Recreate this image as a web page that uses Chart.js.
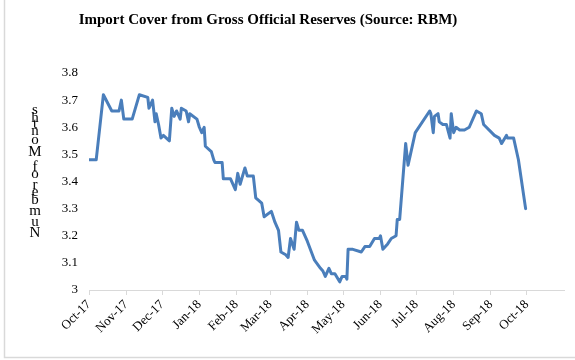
<!DOCTYPE html>
<html>
<head>
<meta charset="utf-8">
<script src="https://cdn.jsdelivr.net/npm/chart.js@4/dist/chart.umd.min.js"></script>
<style>
  html, body { margin: 0; padding: 0; background: #fff; }
  #wrap { position: relative; width: 575px; height: 360px; }
</style>
</head>
<body>
<div id="wrap"><canvas id="c" width="575" height="360"></canvas></div>
<script>
// Import cover (months) from gross official reserves, Oct 2017 – Oct 2018.
// Observation dates are stored as days counted from 1 October 2017.
const days = [
  0, 6, 12, 19, 25, 27, 29, 36, 42, 49,
  50, 53, 55, 56, 58, 60, 62, 67, 69, 71,
  73, 76, 77, 81, 83, 84, 90, 92, 94, 96,
  97, 102, 104, 105, 111, 112, 118, 122, 124, 126,
  130, 132, 137, 139, 144, 146, 152, 155, 158, 160,
  164, 166, 168, 171, 173, 175, 178, 182, 188, 193,
  195, 197, 200, 202, 205, 209, 211, 214, 215, 216,
  220, 227, 230, 234, 238, 242, 243, 245, 249, 252,
  256, 257, 259, 264, 266, 268, 272, 284, 285, 287,
  288, 291, 292, 295, 298, 301, 302, 304, 306, 309,
  313, 317, 323, 327, 329, 338, 342, 344, 348, 349,
  354, 358, 364
];
const importCover = [
  3.48, 3.48, 3.72, 3.66, 3.66, 3.70, 3.63, 3.63, 3.72, 3.71,
  3.67, 3.70, 3.62, 3.65, 3.61, 3.56, 3.57, 3.55, 3.67, 3.64,
  3.66, 3.63, 3.67, 3.66, 3.62, 3.65, 3.63, 3.60, 3.58, 3.60,
  3.53, 3.51, 3.48, 3.47, 3.47, 3.41, 3.41, 3.37, 3.43, 3.39,
  3.45, 3.42, 3.42, 3.34, 3.32, 3.27, 3.29, 3.25, 3.22, 3.14,
  3.13, 3.12, 3.19, 3.15, 3.25, 3.22, 3.22, 3.18, 3.11, 3.08,
  3.07, 3.05, 3.08, 3.06, 3.06, 3.03, 3.05, 3.05, 3.04, 3.15,
  3.15, 3.14, 3.16, 3.16, 3.19, 3.19, 3.20, 3.15, 3.17, 3.19,
  3.20, 3.26, 3.26, 3.54, 3.46, 3.50, 3.58, 3.66, 3.65, 3.58,
  3.64, 3.65, 3.62, 3.61, 3.61, 3.56, 3.65, 3.58, 3.60, 3.59,
  3.59, 3.60, 3.66, 3.65, 3.61, 3.57, 3.56, 3.54, 3.57, 3.56,
  3.56, 3.48, 3.30
];
// First day of each month (days from 1 Oct 2017); the last entry closes the axis.
const monthStarts = [0, 31, 61, 92, 123, 151, 182, 212, 243, 273, 304, 335, 365, 396];
const monthLabels = ['Oct-17', 'Nov-17', 'Dec-17', 'Jan-18', 'Feb-18', 'Mar-18', 'Apr-18',
                     'May-18', 'Jun-18', 'Jul-18', 'Aug-18', 'Sep-18', 'Oct-18'];
const yTicks = [3, 3.1, 3.2, 3.3, 3.4, 3.5, 3.6, 3.7, 3.8];

const chartTitle = 'Import Cover from Gross Official Reserves (Source: RBM)';
const yTitle = 'Number of Months';

const SERIF = '"Liberation Serif", "DejaVu Serif", serif';

// White background plus the light frame on the left and bottom edges.
const framePlugin = {
  id: 'frame',
  beforeDraw(chart) {
    const ctx = chart.ctx;
    ctx.save();
    ctx.fillStyle = '#ffffff';
    ctx.fillRect(0, 0, chart.width, chart.height);
    ctx.strokeStyle = '#d9d9d9';
    ctx.lineWidth = 1.5;
    ctx.beginPath();
    ctx.moveTo(4.5, 0);
    ctx.lineTo(4.5, 357.5);
    ctx.lineTo(chart.width, 357.5);
    ctx.stroke();
    ctx.restore();
  }
};

// Chart heading, and the stacked vertical axis title (upright glyphs read bottom to top).
const textPlugin = {
  id: 'texts',
  afterDraw(chart) {
    const ctx = chart.ctx;
    ctx.save();
    ctx.fillStyle = '#000';
    ctx.font = 'bold 15px ' + SERIF;
    ctx.textAlign = 'center';
    ctx.textBaseline = 'middle';
    ctx.fillText(chartTitle, 268, 20);

    ctx.font = '15px ' + SERIF;
    const chars = Array.from(yTitle);
    const widths = chars.map(ch => ctx.measureText(ch).width);
    const total = widths.reduce((a, b) => a + b, 0) - (widths[0] + widths[widths.length - 1]) / 2;
    const k = 123 / total;
    let y = 233;
    chars.forEach((ch, i) => {
      if (i > 0) y -= (widths[i - 1] + widths[i]) / 2 * k;
      if (ch !== ' ') ctx.fillText(ch, 35, y);
    });
    ctx.restore();
  }
};

new Chart(document.getElementById('c'), {
  type: 'line',
  data: {
    datasets: [{
      data: days.map((d, i) => ({ x: d, y: importCover[i] })),
      borderColor: '#4a7ebb',
      borderWidth: 3,
      pointRadius: 0,
      tension: 0,
      fill: false,
      borderJoinStyle: 'round',
      borderCapStyle: 'round'
    }]
  },
  options: {
    responsive: false,
    animation: false,
    events: [],
    layout: { padding: { top: 73, right: 11, bottom: 0, left: 0 } },
    plugins: { legend: { display: false }, tooltip: { enabled: false }, title: { display: false } },
    scales: {
      x: {
        type: 'linear',
        min: monthStarts[0],
        max: monthStarts[monthStarts.length - 1],
        afterBuildTicks(scale) {
          scale.ticks = monthLabels.map((_, i) => ({ value: monthStarts[i] }));
        },
        afterFit(scale) { scale.height = 70; },
        grid: { display: true, drawOnChartArea: false, drawTicks: true, tickLength: 5, color: '#d9d9d9' },
        border: { display: true, color: '#d9d9d9', width: 1 },
        ticks: {
          autoSkip: false,
          minRotation: 45,
          maxRotation: 45,
          padding: 2,
          color: '#000',
          font: { family: SERIF, size: 13 },
          callback: (value, index) => monthLabels[index]
        }
      },
      y: {
        min: yTicks[0],
        max: yTicks[yTicks.length - 1],
        afterBuildTicks(scale) {
          scale.ticks = yTicks.map(v => ({ value: v }));
        },
        afterFit(scale) { scale.width = 89; },
        grid: { display: false, drawTicks: false },
        border: { display: false },
        ticks: {
          padding: 11,
          color: '#000',
          font: { family: SERIF, size: 13 },
          callback: (value) => String(+value.toFixed(1))
        }
      }
    }
  },
  plugins: [framePlugin, textPlugin]
});
</script>
</body>
</html>
